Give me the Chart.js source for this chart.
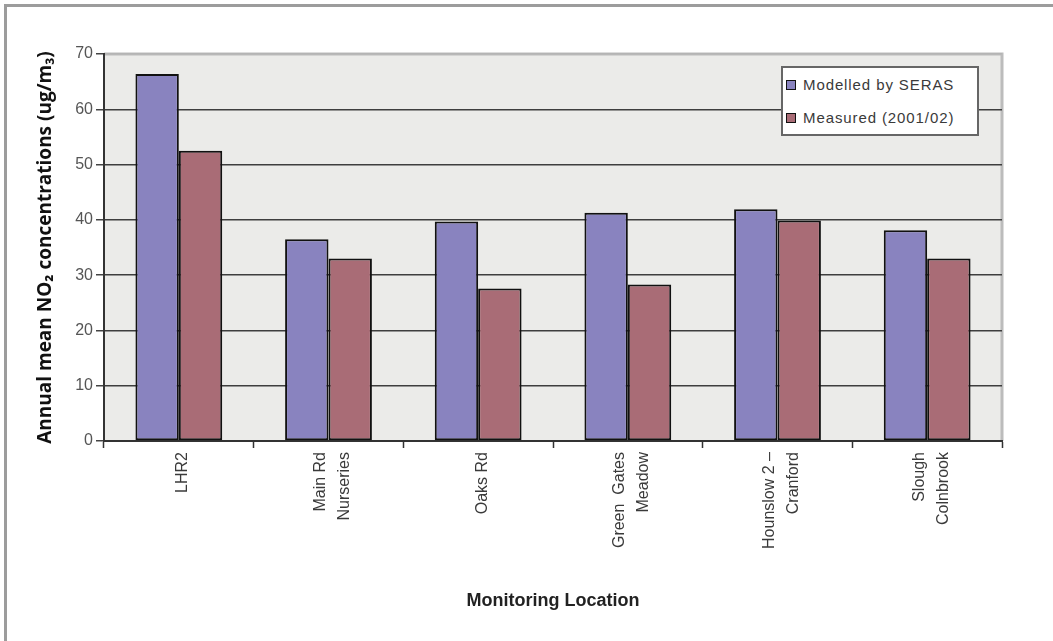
<!DOCTYPE html>
<html>
<head>
<meta charset="utf-8">
<script src="https://cdn.jsdelivr.net/npm/chart.js@4.4.0/dist/chart.umd.min.js"></script>
<style>
    html, body { margin: 0; padding: 0; background: #fff; overflow: hidden; }
    #wrap { position: relative; width: 1053px; height: 641px; overflow: hidden; }
    #frame {
        position: absolute; left: 4px; top: 4px; width: 1100px; height: 700px;
        border-left: 3px solid #9c9c9c; border-top: 3px solid #9c9c9c;
    }
    #legend {
        position: absolute; left: 781px; top: 66px; width: 198px; height: 70px;
        background: #fff; border: 2px solid #666; box-sizing: border-box;
        font: 15px "Liberation Sans", Arial, sans-serif; color: #3a3a3a;
        padding: 0 0 0 3px; letter-spacing: 0.9px;
    }
    #legend div { height: 33px; line-height: 33px; white-space: nowrap; }
    #legend span {
        display: inline-block; width: 8px; height: 8px; border: 1.5px solid #111;
        margin-right: 7px; vertical-align: 0px;
    }
</style>
</head>
<body>
<div id="wrap">
    <canvas id="chart" width="1053" height="641"></canvas>
    <div id="frame"></div>
    <div id="legend"></div>
</div>
<script>
// ============ 数据 ============
const locations = [
    'LHR2',
    ['Main Rd', 'Nurseries'],
    'Oaks Rd',
    ['Green  Gates', 'Meadow'],
    ['Hounslow 2 \u2013', 'Cranford'],
    ['Slough', 'Colnbrook']
];
const modelledValues = [66.4, 36.5, 39.7, 41.3, 41.9, 38.1];
const measuredValues = [52.5, 33.0, 27.6, 28.3, 39.9, 33.0];
const seriesNames = ['Modelled by SERAS', 'Measured (2001/02)'];
const yTickValues = [0, 10, 20, 30, 40, 50, 60, 70];

const seriesColors = ['#8983bf', '#a96c76'];
const axisColor = '#333';
const tickFamily = '"Liberation Sans", Arial, sans-serif';
const xLabelLineHeight = 24;

// 绘图区背景 + 浅色外框
const plotBackground = {
    id: 'plotBackground',
    beforeDraw(chart) {
        const { ctx, chartArea: a } = chart;
        ctx.save();
        ctx.fillStyle = '#ebebe9';
        ctx.fillRect(a.left, a.top, a.right - a.left, a.bottom - a.top);
        ctx.strokeStyle = '#bcbcbc';
        ctx.lineWidth = 3;
        ctx.beginPath();
        ctx.moveTo(a.left, a.top);
        ctx.lineTo(a.right, a.top);
        ctx.lineTo(a.right, a.bottom);
        ctx.stroke();
        ctx.restore();
    }
};

// 多行竖排标签居中于刻度
const centerRotatedLabels = {
    id: 'centerRotatedLabels',
    beforeDraw(chart) {
        const scale = chart.scales.x;
        scale.getLabelItems(chart.chartArea).forEach(item => {
            const n = Array.isArray(item.label) ? item.label.length : 1;
            if (n > 1 && !item._centered) {
                item.textOffset -= (n - 1) * xLabelLineHeight / 2;
                item._centered = true;
            }
        });
    }
};

// 图例（HTML）
document.getElementById('legend').innerHTML = seriesNames
    .map((n, i) => `<div><span style="background:${seriesColors[i]}"></span>${n}</div>`)
    .join('');

function barSet(i, values) {
    return {
        label: seriesNames[i],
        data: values,
        backgroundColor: seriesColors[i],
        borderColor: '#111',
        borderWidth: 2,
        borderSkipped: false,
        categoryPercentage: 0.58,
        barPercentage: 1.0
    };
}

new Chart(document.getElementById('chart'), {
    type: 'bar',
    data: {
        labels: locations,
        datasets: [barSet(0, modelledValues), barSet(1, measuredValues)]
    },
    plugins: [plotBackground, centerRotatedLabels],
    options: {
        responsive: false,
        animation: false,
        layout: { padding: { left: 30, top: 54, right: 51, bottom: 25 } },
        plugins: {
            legend: { display: false },
            tooltip: { enabled: false }
        },
        scales: {
            x: {
                grid: {
                    offset: true,
                    drawOnChartArea: false,
                    drawTicks: true,
                    tickLength: 7,
                    tickWidth: 1.5,
                    color: axisColor
                },
                border: { color: axisColor, width: 2 },
                ticks: {
                    color: '#3a3a3a',
                    font: { family: tickFamily, size: 16, lineHeight: xLabelLineHeight / 16 },
                    maxRotation: 90,
                    minRotation: 90,
                    labelOffset: 4,
                    padding: 4
                },
                title: {
                    display: true,
                    text: 'Monitoring Location',
                    color: '#222',
                    font: { family: tickFamily, size: 18, weight: 'bold' },
                    padding: { top: 4, bottom: 4 }
                },
                afterFit(scale) { scale.height = 175; }
            },
            y: {
                min: 0,
                max: 70,
                afterBuildTicks(scale) {
                    scale.ticks = yTickValues.map(v => ({ value: v }));
                },
                grid: {
                    color: ctx => (ctx.tick && ctx.tick.value === 70 ? '#b4b4b4' : '#3e3e3e'),
                    lineWidth: 1.5,
                    tickLength: 8,
                    tickColor: '#444'
                },
                border: { color: axisColor, width: 2 },
                ticks: { color: '#555', font: { family: tickFamily, size: 16 }, padding: 3 },
                title: {
                    display: true,
                    text: 'Annual mean NO\u2082 concentrations (ug/m\u2083)',
                    color: '#111',
                    font: { family: '"Open Sans", "Noto Sans", sans-serif', size: 19, weight: 'bold' },
                    padding: { top: 4, bottom: 6 }
                },
                afterFit(scale) { scale.width = 74; }
            }
        }
    }
});
</script>
</body>
</html>
